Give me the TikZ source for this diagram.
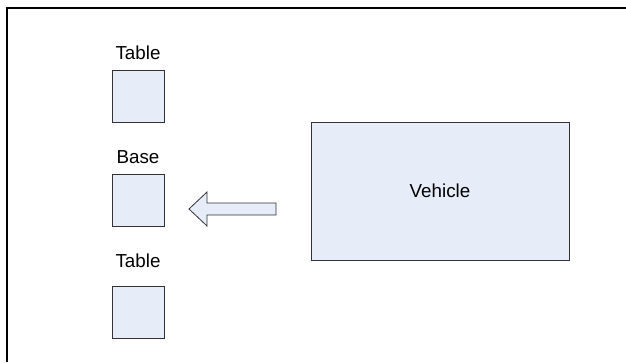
\documentclass[tikz,border=0pt]{standalone}
\usepackage{fontspec}
\setmainfont{Liberation Sans}
\begin{document}
\begin{tikzpicture}[x=1pt,y=-1pt,
  blockbox/.style={draw=black!80,fill=boxfill,line width=0.8pt},
  sq/.style={blockbox,minimum width=52pt,minimum height=52pt,inner sep=0pt},
  lbl/.style={anchor=base,inner sep=0pt,font=\fontsize{18.8}{20}\selectfont}]
\definecolor{boxfill}{RGB}{230,237,248}
\useasboundingbox (0,0) rectangle (626,362);
\fill[white] (0,0) rectangle (626,362);
% frame
\draw[line width=2pt] (7,362) -- (7,7.5) -- (626,7.5);
% boxes
\node[sq] (table1) at (138,96.5) {};
\node[sq] (base) at (138,200) {};
\node[sq] (table2) at (138,312) {};
\node[blockbox,minimum width=258pt,minimum height=138pt,inner sep=0pt,font=\fontsize{18.8}{20}\selectfont] (vehicle) at (440,191) {Vehicle};
\node[lbl] (t1) at (138,59) {Table};
\node[lbl] (b) at (138,163) {Base};
\node[lbl] (t2) at (138,267) {Table};
% block arrow
\draw[blockbox] (189,209) -- (207,192) -- (207,203) -- (276,203) -- (276,215) -- (207,215) -- (207,226) -- cycle;
\end{tikzpicture}
\end{document}
